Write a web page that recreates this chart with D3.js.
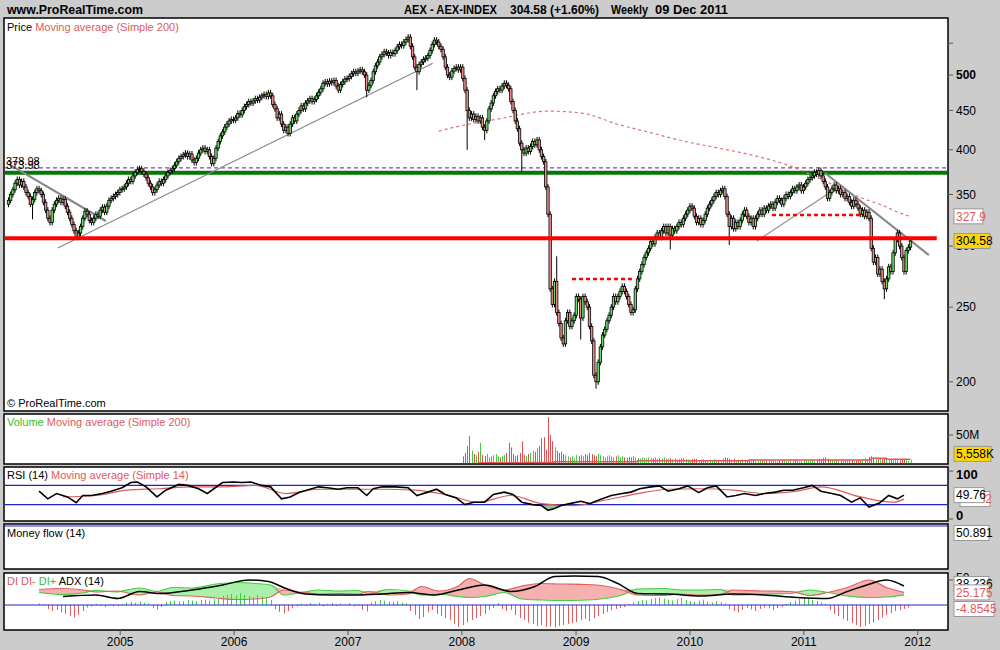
<!DOCTYPE html>
<html><head><meta charset="utf-8">
<script src="https://cdn.jsdelivr.net/npm/d3@7"></script>
<style>
body{margin:0;background:#cccccc;}
svg{display:block;}
text{font-family:"Liberation Sans",Arial,sans-serif;}
</style>
</head><body>
<svg id="c" width="1000" height="650"></svg>
<script>
// ---------------- DATA ----------------
const firstWeek = [2004, 0, 9];           // first weekly bar (Fri 9 Jan 2004)
const firstOpen = 340;
const closes = [
// 2004
344,350,355,362,366,360,364,358,352,348,340,345,352,356,354,350,342,334,326,322,334,340,344,346,342,345,338,332,326,320,314,308,312,318,326,333,330,324,322,326,330,328,334,337,332,338,344,346,348,350,352,355,
// 2005
356,358,362,366,364,370,374,377,378,375,372,368,362,358,352,355,360,364,362,366,370,374,376,378,382,386,390,392,394,396,392,395,388,385,390,396,400,402,398,400,392,384,390,402,410,417,422,428,432,436,438,437,
// 2006
440,446,444,450,455,458,462,460,463,466,464,468,470,472,469,474,470,458,452,440,445,432,424,428,420,432,440,436,445,450,456,452,460,463,466,462,465,470,475,480,488,490,487,491,489,492,484,478,486,490,494,495,
// 2007
498,502,505,503,506,508,505,500,478,485,492,505,514,520,528,532,536,534,530,535,533,538,544,548,546,552,556,560,545,528,512,505,516,520,524,526,530,538,548,555,552,545,540,528,512,500,497,506,510,512,508,512,
// 2008
495,478,450,440,445,438,442,436,440,428,424,436,452,460,470,476,480,478,484,488,485,480,462,450,436,426,408,400,396,402,398,404,410,406,412,400,392,386,358,330,264,252,270,246,238,228,224,240,246,236,240,244,
// 2009
258,256,242,258,254,250,236,226,204,200,212,222,230,234,240,244,250,258,254,258,262,266,262,258,252,246,248,264,272,278,284,290,294,298,304,302,308,312,308,314,318,312,318,310,316,314,318,322,320,326,330,334,
// 2010
338,336,328,322,326,320,324,330,336,340,344,348,352,350,354,356,348,330,318,326,316,322,318,324,330,334,328,322,326,318,326,330,334,330,336,334,338,340,336,342,346,344,340,346,350,348,352,356,354,358,360,354,
// 2011
358,362,366,368,370,374,372,376,370,364,358,346,352,356,360,354,356,350,352,346,348,342,338,344,340,336,330,334,328,332,326,298,286,290,276,280,270,264,272,282,278,294,306,312,300,290,278,296,299,304.58
];
const wickLowWeeks = [11, 164, 187, 210, 218, 235, 262, 269, 303, 330, 401];
const wickLowValues = [325, 468, 478, 400, 412, 375, 227, 196, 297, 301, 256];
const wickHighWeeks = [251];
const wickHighValues = [291];

const maWeeks  = [197,202,225,247,263,279,294,309,324,340,358,376,390,400,411,413];
const maValues = [423,426.5,439,449,446,431.6,421,410.6,402.5,394,381,362,347,339,329,327.9];

const levelPurple = 378.98, levelGreen = 373.5, levelRed = 307;
const trendStarts = [[0.3,383],[22.7,298.2],[342.7,304.5],[373.9,373.2]];
const trendEnds   = [[44.6,323.3],[194.4,518.2],[380.7,359],[421.5,292]];
const redDashStarts = [[258,271.9],[349.6,329.2]];
const redDashEnds   = [[285.5,271.9],[390.8,329.2]];
const redLineEndWeek = 425;

const priceTicks = [200,250,300,350,400,450,500,550];
const priceTickLabels = ["200","250","300","350","400","450","500",""];

// volume (millions), weekly from week 208 (Jan 2008)
const volStartWeek = 208;
const volumes = [
12,18,30,48,22,16,14,20,36,14,12,16,10,12,14,16,12,10,12,14,18,36,28,16,12,14,18,39,14,12,16,18,22,20,26,30,44,46,24,82,50,39,28,22,18,20,16,14,12,10,12,8,
14,12,14,12,16,14,18,16,14,12,16,14,12,10,12,14,12,10,12,14,10,12,10,9,11,10,12,10,9,8,10,9,8,10,9,8,10,7,9,8,10,7,8,9,7,8,6,7,8,9,7,6,
6,7,8,7,5,6,7,5,4,6,5,7,6,4,5,8,10,9,7,6,8,5,6,4,7,6,5,4,6,7,5,4,6,5,7,4,5,6,4,5,3,4,5,6,4,3,5,4,6,5,3,3,
5,6,4,5,7,6,5,8,7,9,10,8,7,6,5,6,4,5,6,5,7,6,5,4,5,6,5,7,8,7,11,12,10,9,10,8,7,9,8,7,6,7,8,6,5,7,6,5,4,5.558
];
const volMaWeeks  = [215,236,250,288,339,395,402,413];
const volMaValues = [0.5,1.0,2.3,4.1,5.4,8.4,6.6,6.6];

const rsiWeeks = [14,18,22,27,31,34,38,43,47,52,56,59,63,68,72,78,82,87,91,94,98,103,107,111,116,120,125,129,133,138,142,146,151,155,160,164,167,171,177,183,187,192,196,200,205,209,213,218,222,227,231,235,240,244,247,250,253,257,262,266,270,276,281,285,289,294,298,302,307,311,316,320,324,329,333,337,342,346,351,355,359,364,368,372,377,381,386,390,394,399,403,407,410];
const rsiValues = [58,42,53,46,34,49,49,53,58,65,76,77,67,46,60,72,70,63,53,63,76,77,76,77,70,67,42,46,55,62,67,65,62,65,65,49,63,67,67,65,49,56,62,51,44,30,35,35,51,56,51,35,30,28,18,22,28,32,37,32,39,49,53,56,63,67,69,58,63,69,55,65,69,46,49,53,49,53,56,60,60,65,70,58,53,49,35,44,25,34,49,42,49.76];
const rsiMaWeeks  = [25,40,54,69,84,98,113,127,142,157,171,186,200,215,230,244,259,273,288,302,317,332,346,361,372,390,405,410];
const rsiMaValues = [46,49,60,63,67,67,70,53,62,62,62,60,51,35,49,32,28,39,53,62,63,60,53,58,67,46,35,41.5];

const diWeeks = [14,25,34,40,49,60,68,75,84,95,104,113,120,126,133,142,151,160,165,174,183,189,197,206,211,218,227,235,244,253,265,273,281,288,300,308,317,326,332,346,358,367,375,384,394,402,410];
const diPlus  = [25,21,24,29,26,34,27,35,34,42,45,43,40,20,24,30,28,29,22,31,28,20,22,17,15,17,25,12,10,9,10,13,20,32,33,30,30,31,20,22,23,30,25,18,15,16,20.3];
const diMinus = [31,33,30,26,28,20,26,19,18,14,11,12,16,30,26,22,23,22,27,20,22,37,28,38,53,40,30,38,43,42,41,38,30,20,19,22,20,21,30,28,27,19,25,35,50,35,25.2];
const adxWeeks  = [25,40,50,60,69,84,98,110,119,127,136,148,160,171,183,195,206,218,230,241,250,259,270,279,288,302,317,332,346,361,375,384,393,402,410];
const adxValues = [17,20,13,27,23,30,40,50,47,33,22,20,20,22,25,20,30,40,27,37,57,58,57,43,23,22,18,22,20,15,13,27,40,50,38];
// DI+ minus DI- histogram, every 2 weeks from week 14
const histStartWeek = 14;
const histValues = [
3,2,
-8,-12,-10,-15,-18,-22,-25,-20,-12,
-5,-3,2,-2,-4,1,-3,-2,2,
5,6,4,7,5,3,
-6,-9,-4,
6,8,9,7,8,10,9,8,10,11,9,12,
14,18,20,22,19,24,20,18,16,20,17,14,10,
-8,-14,-17,-12,-6,-3,
3,-2,4,2,5,-3,2,4,-2,3,1,4,-3,2,
-10,-13,
5,8,10,9,7,6,8,5,3,
-12,-20,-28,-24,-15,-10,-18,-22,
-26,-30,-38,-44,-40,-35,-30,-26,-22,-18,
-10,-6,4,-8,-12,-10,
-20,-26,-30,-35,-38,-42,-40,-44,-43,-45,-42,-40,-38,-36,-34,-30,-28,-32,-26,-22,-18,-14,-10,
-8,-6,-4,2,
5,8,10,9,12,14,15,13,11,9,12,14,10,8,6,9,11,7,5,8,6,3,
-8,-12,-15,-10,-6,-9,-12,-8,-5,-7,-10,-6,-4,2,
6,9,12,15,13,10,8,5,2,
-10,-18,-22,-28,-32,-36,-40,-44,-42,-38,-35,-30,-25,-20,-16,-12,-10,-8,-5
];
const yearTicks = [2005,2006,2007,2008,2009,2010,2011,2012];

// ---------------- LAYOUT / SCALES ----------------
const svg = d3.select('#c');
const L = 4, R = 948;
const panels = {price:[18,411], vol:[414,464], rsi:[467,521], mf:[524,569], di:[573,630]};
const wk = i => new Date(firstWeek[0], firstWeek[1], firstWeek[2] + 7*i);
const x = d3.scaleTime().domain([wk(0), new Date(2012,0,1)]).range([8.5, 917.7]);
const xi = i => x(wk(i));
const yP = d3.scaleLog().domain([183.3, 593]).range([411, 18]);
const yV = d3.scaleLinear().domain([0, 50]).range([463, 435]);
const yR = d3.scaleLinear().domain([0, 100]).range([519, 471]);
const yD = d3.scaleLinear().domain([0, 50]).range([605, 580]);

const GREEN = '#66dd66', PINK = '#f08a8a', RED = '#e05a5a';

svg.append('rect').attr('width',1000).attr('height',650).attr('fill','#cccccc');
const defs = svg.append('defs');
Object.entries(panels).forEach(([k,[t,b]]) => {
  svg.append('rect').attr('x',L).attr('y',t).attr('width',R-L).attr('height',b-t)
     .attr('fill','#fff').attr('stroke','#000').attr('stroke-width',1.5);
  defs.append('clipPath').attr('id','clip-'+k).append('rect')
     .attr('x',L+1).attr('y',t+1).attr('width',R-L-2).attr('height',b-t-2);
});

// ---------------- HEADER ----------------
svg.append('text').attr('x',7).attr('y',14).attr('font-size',12.5).attr('font-weight','bold')
   .attr('textLength',136).attr('lengthAdjust','spacingAndGlyphs').text('www.ProRealTime.com');
[['AEX - AEX-INDEX',404,93],['304.58 (+1.60%)',510,89],['Weekly',611,37],['09 Dec 2011',655,73]].forEach(([t,xx,w])=>{
  svg.append('text').attr('x',xx).attr('y',14).attr('font-size',12.5).attr('font-weight','bold')
     .attr('textLength',w).attr('lengthAdjust','spacingAndGlyphs').text(t);
});

// ---------------- PRICE PANEL ----------------
const gP = svg.append('g').attr('clip-path','url(#clip-price)');
gP.append('line').attr('x1',L).attr('x2',R).attr('y1',yP(levelPurple)).attr('y2',yP(levelPurple))
  .attr('stroke','#9933cc').attr('stroke-width',1.2).attr('stroke-dasharray','4,3');
gP.append('line').attr('x1',L).attr('x2',R).attr('y1',yP(levelGreen)).attr('y2',yP(levelGreen))
  .attr('stroke','#007a00').attr('stroke-width',4);
gP.append('path').datum(maWeeks.map((w,k)=>[w,maValues[k]]))
  .attr('d', d3.line().x(d=>xi(d[0])).y(d=>yP(d[1])).curve(d3.curveMonotoneX))
  .attr('fill','none').attr('stroke','#e07070').attr('stroke-width',1.2).attr('stroke-dasharray','3,3');
trendStarts.forEach((s,k)=>{
  const e = trendEnds[k];
  gP.append('line').attr('x1',xi(s[0])).attr('y1',yP(s[1])).attr('x2',xi(e[0])).attr('y2',yP(e[1]))
    .attr('stroke','#888').attr('stroke-width', (k===0||k===3)?2.2:1.1);
});
const wLow = new Map(wickLowWeeks.map((w,k)=>[w,wickLowValues[k]]));
const wHigh = new Map(wickHighWeeks.map((w,k)=>[w,wickHighValues[k]]));
const candles = closes.map((c,i)=>({i, o: i ? closes[i-1] : firstOpen, c}));
const gCand = gP.append('g');
candles.forEach(d=>{
  const cx = xi(d.i);
  const yo = yP(d.o), yc = yP(d.c);
  const top = Math.min(yo,yc), bot = Math.max(yo,yc);
  const yh = wHigh.has(d.i) ? yP(wHigh.get(d.i)) : top - 3;
  const yl = wLow.has(d.i) ? yP(wLow.get(d.i)) : bot + 3;
  gCand.append('line').attr('x1',cx).attr('x2',cx).attr('y1',yh).attr('y2',yl)
       .attr('stroke','#000').attr('stroke-width',1);
  gCand.append('rect').attr('x',cx-1.2).attr('y',top).attr('width',2.4).attr('height',Math.max(bot-top,1))
       .attr('fill', d.c>=d.o ? GREEN : PINK).attr('stroke','#000').attr('stroke-width',0.8);
});
gP.append('line').attr('x1',L).attr('x2',xi(redLineEndWeek)).attr('y1',yP(levelRed)).attr('y2',yP(levelRed))
  .attr('stroke','#ff0000').attr('stroke-width',4);
redDashStarts.forEach((s,k)=>{
  const e = redDashEnds[k];
  gP.append('line').attr('x1',xi(s[0])).attr('y1',yP(s[1])).attr('x2',xi(e[0])).attr('y2',yP(e[1]))
    .attr('stroke','#ff0000').attr('stroke-width',2.5).attr('stroke-dasharray','4,3');
});
svg.append('text').attr('x',6).attr('y',yP(levelGreen)-4).attr('font-size',11).text('373.98');
svg.append('text').attr('x',6).attr('y',yP(levelPurple)-3).attr('font-size',11).text(levelPurple.toFixed(2));
function title(y, parts){
  const t = svg.append('text').attr('x',7).attr('y',y).attr('font-size',11);
  parts.forEach(([s,c])=>t.append('tspan').attr('fill',c).text(s));
}
title(31, [['Price ','#000'],['Moving average (Simple 200)',RED]]);
svg.append('text').attr('x',7).attr('y',407).attr('font-size',11).text('\u00A9 ProRealTime.com');

const gAx = svg.append('g');
priceTicks.forEach((v,k)=>{
  gAx.append('line').attr('x1',R).attr('x2',R+5).attr('y1',yP(v)).attr('y2',yP(v)).attr('stroke','#555');
  gAx.append('text').attr('x',R+8).attr('y',yP(v)).attr('dy','0.35em').attr('font-size',12)
     .attr('font-weight', v===500?'bold':'normal').text(priceTickLabels[k]);
});
function box(xx, yc, w, txt, fill, color, weight){
  svg.append('rect').attr('x',xx).attr('y',yc-7.5).attr('width',w).attr('height',15)
     .attr('fill',fill).attr('stroke','#999').attr('stroke-width',1);
  svg.append('text').attr('x',xx+2).attr('y',yc).attr('dy','0.36em').attr('font-size',12)
     .attr('fill',color).attr('font-weight',weight||'normal').text(txt);
}
box(954, yP(maValues[maValues.length-1]), 29, '327.9', '#fff', RED);
box(954, yP(closes[closes.length-1]), 36, '304.58', '#ffd700', '#000');

// ---------------- VOLUME PANEL ----------------
const gV = svg.append('g').attr('clip-path','url(#clip-vol)');
volumes.forEach((v,k)=>{
  const i = volStartWeek + k;
  const cx = Math.round(xi(i)) + 0.5;
  const up = candles[i].c >= candles[i].o;
  gV.append('line').attr('x1',cx).attr('x2',cx).attr('y1',yV(0)).attr('y2',yV(v))
    .attr('stroke', up ? '#44cc44' : '#e05050').attr('stroke-width',1);
});
gV.append('path').datum(volMaWeeks.map((w,k)=>[w,volMaValues[k]]))
  .attr('d', d3.line().x(d=>xi(d[0])).y(d=>yV(d[1])).curve(d3.curveStepAfter))
  .attr('fill','none').attr('stroke','#e05a5a').attr('stroke-width',1.5);
title(426, [['Volume ','#33bb33'],['Moving average (Simple 200)',RED]]);
svg.append('line').attr('x1',R).attr('x2',R+5).attr('y1',yV(50)).attr('y2',yV(50)).attr('stroke','#555');
svg.append('text').attr('x',R+8).attr('y',yV(50)).attr('dy','0.35em').attr('font-size',12).text('50M');
box(954, yV(volumes[volumes.length-1]) - 6, 37, '5,558K', '#ffd700', '#000');

// ---------------- RSI PANEL ----------------
const gR = svg.append('g').attr('clip-path','url(#clip-rsi)');
const rsiPts = rsiWeeks.map((w,k)=>[w,rsiValues[k]]);
gR.append('path').datum(rsiPts)
  .attr('d', d3.area().x(d=>xi(d[0])).y0(yR(30)).y1(d=>yR(Math.min(d[1],30))))
  .attr('fill','#8fc79a');
[70,30].forEach(v=>gR.append('line').attr('x1',L).attr('x2',R).attr('y1',yR(v)).attr('y2',yR(v))
  .attr('stroke','#2222cc').attr('stroke-width',1.2));
gR.append('path').datum(rsiMaWeeks.map((w,k)=>[w,rsiMaValues[k]]))
  .attr('d', d3.line().x(d=>xi(d[0])).y(d=>yR(d[1])).curve(d3.curveMonotoneX))
  .attr('fill','none').attr('stroke','#e05a5a').attr('stroke-width',1.2);
gR.append('path').datum(rsiPts)
  .attr('d', d3.line().x(d=>xi(d[0])).y(d=>yR(d[1])))
  .attr('fill','none').attr('stroke','#000').attr('stroke-width',1.6);
title(479, [['RSI (14) ','#000'],['Moving average (Simple 14)',RED]]);
[[100,'100'],[0,'0']].forEach(([v,t])=>{
  svg.append('line').attr('x1',R).attr('x2',R+5).attr('y1',yR(v)).attr('y2',yR(v)).attr('stroke','#555');
  svg.append('text').attr('x',R+8).attr('y',yR(v) + (v===100?3:-4)).attr('dy','0.35em').attr('font-size',13)
     .attr('font-weight','bold').text(t);
});
box(960, yR(rsiMaValues[rsiMaValues.length-1]), 30, '41.52', '#fff', RED);
box(954, yR(rsiValues[rsiValues.length-1]), 30, '49.76', '#fff', '#000');

// ---------------- MONEY FLOW PANEL ----------------
svg.append('line').attr('x1',L).attr('x2',R).attr('y1',panels.mf[0]+2).attr('y2',panels.mf[0]+2)
   .attr('stroke','#2222cc').attr('stroke-width',1.2);
title(537, [['Money flow (14)','#000']]);
box(954, panels.mf[0]+9, 35, '50.891', '#fff', '#000');

// ---------------- DI / ADX PANEL ----------------
const gD = svg.append('g').attr('clip-path','url(#clip-di)');
const diPts = diWeeks.map((w,k)=>({w, p:diPlus[k], m:diMinus[k]}));
gD.append('path').datum(diPts)
  .attr('d', d3.area().x(d=>xi(d.w)).y0(d=>yD(d.m)).y1(d=>yD(Math.max(d.p,d.m))).curve(d3.curveMonotoneX))
  .attr('fill','#aaf0aa');
gD.append('path').datum(diPts)
  .attr('d', d3.area().x(d=>xi(d.w)).y0(d=>yD(d.p)).y1(d=>yD(Math.max(d.p,d.m))).curve(d3.curveMonotoneX))
  .attr('fill','#f5b0b0');
histValues.forEach((v,k)=>{
  const i = histStartWeek + 2*k;
  const cx = Math.round(xi(i)) + 0.5;
  gD.append('line').attr('x1',cx).attr('x2',cx).attr('y1',yD(0)).attr('y2',yD(v))
    .attr('stroke', v>=0 ? '#44cc44' : '#e06060').attr('stroke-width',1);
});
gD.append('line').attr('x1',L).attr('x2',R).attr('y1',yD(0)).attr('y2',yD(0))
  .attr('stroke','#2222cc').attr('stroke-width',1.2);
gD.append('path').datum(diPts)
  .attr('d', d3.line().x(d=>xi(d.w)).y(d=>yD(d.p)).curve(d3.curveMonotoneX))
  .attr('fill','none').attr('stroke','#44cc44').attr('stroke-width',1.2);
gD.append('path').datum(diPts)
  .attr('d', d3.line().x(d=>xi(d.w)).y(d=>yD(d.m)).curve(d3.curveMonotoneX))
  .attr('fill','none').attr('stroke','#e06060').attr('stroke-width',1.2);
gD.append('path').datum(adxWeeks.map((w,k)=>[w,adxValues[k]]))
  .attr('d', d3.line().x(d=>xi(d[0])).y(d=>yD(d[1])).curve(d3.curveMonotoneX))
  .attr('fill','none').attr('stroke','#000').attr('stroke-width',1.5);
title(585, [['DI DI- ',RED],['DI+ ','#33bb33'],['ADX (14)','#000']]);
svg.append('line').attr('x1',R).attr('x2',R+5).attr('y1',yD(50)).attr('y2',yD(50)).attr('stroke','#555');
svg.append('text').attr('x',R+8).attr('y',yD(50)-2).attr('dy','0.35em').attr('font-size',12).text('50');
box(954, yD(adxValues[adxValues.length-1]) - 2, 35, '38.236', '#fff', '#000');
box(954, yD(diMinus[diMinus.length-1]), 35, '25.175', '#fff', RED);
box(954, yD(histValues[histValues.length-1]) + 1.5, 40, '-4.8545', '#fff', RED);

// ---------------- X AXIS ----------------
yearTicks.forEach(yr=>{
  const xx = x(new Date(yr,0,1));
  svg.append('line').attr('x1',xx).attr('x2',xx).attr('y1',panels.di[1]).attr('y2',panels.di[1]+5).attr('stroke','#555');
  svg.append('text').attr('x',xx).attr('y',646).attr('text-anchor','middle').attr('font-size',12).text(yr);
});
</script>
</body></html>
